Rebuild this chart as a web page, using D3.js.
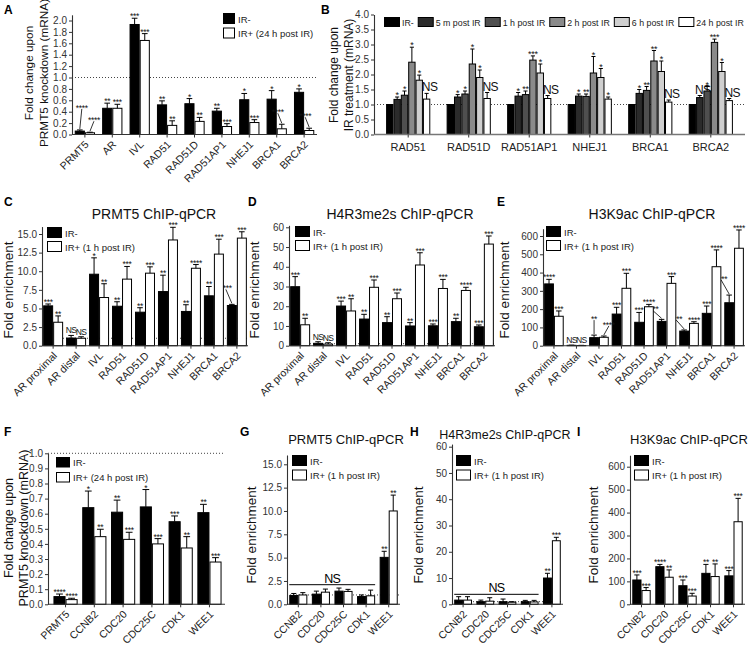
<!DOCTYPE html>
<html><head><meta charset="utf-8">
<script src="https://cdn.jsdelivr.net/npm/d3@7"></script>
<style>body{margin:0;background:#fff}svg text{font-family:"Liberation Sans",Arial,sans-serif}</style>
</head><body><svg id="c" width="749" height="646"></svg>
<script>
// ---------- DATA ----------
// Panel A
const catsA = ["PRMT5","AR","IVL","RAD51","RAD51D","RAD51AP1","NHEJ1","BRCA1","BRCA2"];
const A_neg = [0.06,0.46,1.93,0.52,0.54,0.41,0.61,0.62,0.74];
const A_negErr = [0.02,0.09,0.11,0.07,0.09,0.05,0.11,0.15,0.06];
const A_pos = [0.03,0.46,1.65,0.16,0.23,0.14,0.21,0.10,0.07];
const A_posErr = [0.01,0.07,0.12,0.08,0.07,0.05,0.05,0.08,0.04];
const A_negStars = ["****","**","***","**","*","**","*","*","*"];
const A_posStars = ["****","***","***","**","**","***","***","****","****"];
const ticksA = [0,0.2,0.4,0.6,0.8,1.0,1.2,1.4,1.6,1.8,2.0];
const legendA = ["IR-","IR+ (24 h post  IR)"];

// Panel B
const catsB = ["RAD51","RAD51D","RAD51AP1","NHEJ1","BRCA1","BRCA2"];
const seriesB = ["IR-","5 m post IR","1 h post IR","2 h post IR","6 h post IR","24 h post  IR"];
const B_ir = [1,1,1,1,1,1];
const B_5m = [1.17,1.25,1.28,1.28,1.37,1.23];
const B_5mErr = [0.08,0.08,0.12,0.07,0.13,0.07];
const B_1h = [1.31,1.35,1.33,1.27,1.47,1.45];
const B_1hErr = [0.14,0.10,0.12,0.08,0.13,0.15];
const B_2h = [2.41,2.35,2.48,2.05,2.45,3.07];
const B_2hErr = [0.50,0.50,0.14,0.55,0.35,0.11];
const B_6h = [1.81,1.90,2.05,1.90,2.10,2.10];
const B_6hErr = [0.17,0.25,0.30,0.30,0.35,0.30];
const B_24h = [1.18,1.20,1.20,1.18,1.08,1.13];
const B_24hErr = [0.19,0.20,0.10,0.07,0.07,0.07];
const B_5mStars = ["*","*","*","*","*","NS"];
const B_1hStars = ["*","*","**","**","**","*"];
const B_2hStars = ["*","*","***","*","**","***"];
const B_6hStars = ["*","*","*","*","*","*"];
const B_24hStars = ["NS","NS","NS","*","NS","NS"];
const ticksB = [0,0.5,1.0,1.5,2.0,2.5,3.0,3.5,4.0];

// Panels C, D, E (ChIP-qPCR, IR- vs IR+ 1 h)
const catsCDE = ["AR proximal","AR distal","IVL","RAD51","RAD51D","RAD51AP1","NHEJ1","BRCA1","BRCA2"];
const legendChIP = ["IR-","IR+ (1 h post IR)"];
const C_neg = [5.35,1.03,9.6,5.3,4.5,7.27,4.6,6.7,5.4];
const C_negErr = [0.25,0.35,2.2,0.6,0.6,2.2,0.9,1.25,0.15];
const C_pos = [3.15,1.0,6.47,8.94,9.74,14.2,10.4,12.3,14.45];
const C_posErr = [0.85,0.2,1.85,1.7,0.85,1.7,0.5,2.0,0.85];
const C_negStars = ["***","NS","*","**","**","**","**","**","****"];
const C_posStars = ["**","NS","**","***","***","***","****","***","***"];
const ticksC = [0,2.5,5.0,7.5,10.0,12.5,15.0];

const D_neg = [29.9,1.2,20.1,13.5,11.7,10.0,10.1,12.2,9.6];
const D_negErr = [5.1,0.8,2.5,2.4,3.0,1.7,0.9,1.7,0.9];
const D_pos = [10.6,0.8,17.6,29.6,23.8,40.9,29.0,28.0,51.5];
const D_posErr = [3.3,0.7,6.2,3.7,2.9,6.2,4.6,1.6,4.1];
const D_negStars = ["***","NS","***","**","**","**","***","**","***"];
const D_posStars = ["**","NS","**","***","***","***","***","****","***"];
const ticksD = [0,10,20,30,40,50,60];

const E_neg = [338,2,44,173,128,133,80,177,235];
const E_negErr = [25,1,14,37,54,11,6,40,42];
const E_pos = [161,1,46,314,213,341,122,432,533];
const E_posErr = [29,1,7,82,13,37,9,92,100];
const E_negStars = ["****","NS","**","***","***","****","****","***","****"];
const E_posStars = ["***","NS","****","***","****","***","****","****","****"];
const ticksE = [0,100,200,300,400,500,600];

// Panel F
const catsF = ["PRMT5","CCNB2","CDC20","CDC25C","CDK1","WEE1"];
const F_neg = [0.051,0.64,0.61,0.645,0.547,0.607];
const F_negErr = [0.017,0.11,0.08,0.115,0.038,0.055];
const F_pos = [0.031,0.448,0.43,0.40,0.373,0.28];
const F_posErr = [0.009,0.049,0.047,0.035,0.075,0.029];
const F_negStars = ["****","*","**","*","***","**"];
const F_posStars = ["****","**","***","***","**","***"];
const ticksF = [0,0.1,0.2,0.3,0.4,0.5,0.6,0.7,0.8,0.9,1.0];

// Panels G, H, I
const catsGHI = ["CCNB2","CDC20","CDC25C","CDK1","WEE1"];
const G_neg = [0.95,1.09,1.41,0.83,5.03];
const G_negErr = [0.21,0.32,0.33,0.17,0.65];
const G_pos = [1.0,1.3,1.38,0.91,10.0];
const G_posErr = [0.25,0.33,0.22,0.61,1.7];
const G_negStars = ["","","","","**"];
const G_posStars = ["","","","","**"];
const ticksG = [0,2.5,5.0,7.5,10.0,12.5,15.0];

const H_neg = [1.6,1.0,1.0,1.0,10.0];
const H_negErr = [1.3,0.6,1.0,0.5,1.8];
const H_pos = [1.6,1.2,0.8,0.9,24.2];
const H_posErr = [1.3,1.3,0.2,0.6,1.3];
const H_negStars = ["","","","","**"];
const H_posStars = ["","","","","***"];
const ticksH = [0,10,20,30,40,50,60];

const I_neg = [106,164,81,135,124];
const I_negErr = [22,10,25,39,23];
const I_pos = [60,118,36,121,360];
const I_posErr = [13,32,12,55,102];
const I_negStars = ["***","****","***","**","***"];
const I_posStars = ["***","**","***","**","***"];
const ticksI = [0,100,200,300,400,500,600];

// ---------- DRAWING ----------
const svg = d3.select("#c");
const AX = "#333";

function drawPanel(c) {
  const g = svg.append("g");
  const ppu = (c.y0 - c.yTickTop) / c.tickTop;
  const y = d3.scaleLinear().domain([0, c.axisTop]).range([c.y0, c.y0 - c.axisTop * ppu]);
  const x = d3.scaleBand().domain(c.cats).range([c.bx0, c.bx1]).paddingInner(c.padIn).paddingOuter(c.padOut);
  const xs = d3.scaleBand().domain(d3.range(c.series.length)).range([0, x.bandwidth()]);
  const bw = xs.bandwidth();

  if (c.ref != null) {
    g.append("line").attr("x1", c.ax0).attr("x2", c.ax1).attr("y1", y(c.ref)).attr("y2", y(c.ref))
      .attr("stroke", "#444").attr("stroke-width", 1).attr("stroke-dasharray", "1,2");
  }

  c.series.forEach((s, si) => {
    const rows = c.cats.map((cat, i) => ({cat, i, v: s.values[i], e: s.errs ? s.errs[i] : 0, star: s.stars ? s.stars[i] : ""}));
    const cx = d => x(d.cat) + xs(si) + bw / 2;
    g.selectAll(null).data(rows).join("rect")
      .attr("x", d => x(d.cat) + xs(si) + 0.5)
      .attr("y", d => y(d.v))
      .attr("width", bw - 1)
      .attr("height", d => Math.max(0, c.y0 - y(d.v)))
      .attr("fill", s.fill).attr("stroke", "#000").attr("stroke-width", 1);
    const er = rows.filter(d => d.e > 0);
    g.selectAll(null).data(er).join("line")
      .attr("x1", cx).attr("x2", cx).attr("y1", d => y(d.v)).attr("y2", d => y(d.v + d.e))
      .attr("stroke", "#000").attr("stroke-width", 1);
    g.selectAll(null).data(er).join("line")
      .attr("x1", d => cx(d) - bw * 0.28).attr("x2", d => cx(d) + bw * 0.28)
      .attr("y1", d => y(d.v + d.e)).attr("y2", d => y(d.v + d.e))
      .attr("stroke", "#000").attr("stroke-width", 1);
    rows.filter(d => d.star).forEach(d => {
      const key = si + "-" + d.i;
      const L = c.leaders && c.leaders[key];
      const top = y(d.v + d.e);
      const isNS = d.star === "NS";
      const fs = isNS ? (c.nsSize || 8.5) : (c.starSize || 8.5);
      let tx = cx(d), ty = top - 2;
      if (isNS && c.nsDx) tx += c.nsDx;
      if (L) {
        tx += L[0]; ty += L[1];
        g.append("line").attr("x1", tx).attr("y1", ty + 1).attr("x2", cx(d)).attr("y2", top - 1)
          .attr("stroke", "#000").attr("stroke-width", 0.8);
      }
      g.append("text").attr("x", tx).attr("y", isNS ? ty : ty + 3).attr("text-anchor", "middle")
        .attr("font-size", fs).attr("fill", "#111")
        .attr("letter-spacing", isNS ? -0.6 : -0.3)
        .text(d.star);
    });
  });

  // y axis
  const ya = g.append("g").attr("transform", `translate(${c.ax0},0)`)
    .call(d3.axisLeft(y).tickValues(c.ticks).tickFormat(c.fmt).tickSize(3).tickSizeOuter(0).tickPadding(2));
  ya.select(".domain").attr("stroke", AX).attr("stroke-width", 1.1);
  ya.selectAll(".tick line").attr("stroke", AX);
  ya.selectAll(".tick text").attr("font-size", 10).attr("fill", "#333").style("font-family", '"Liberation Sans",Arial,sans-serif');

  // x axis
  g.append("line").attr("x1", c.ax0).attr("x2", c.ax1).attr("y1", c.y0).attr("y2", c.y0)
    .attr("stroke", c.xAxisColor || AX).attr("stroke-width", c.xAxisWidth || 1.1);
  g.selectAll(null).data(c.cats).join("line")
    .attr("x1", d => x(d) + x.bandwidth() / 2).attr("x2", d => x(d) + x.bandwidth() / 2)
    .attr("y1", c.y0).attr("y2", c.y0 + 3).attr("stroke", AX);
  if (c.rotate) {
    g.selectAll(null).data(c.cats).join("text")
      .attr("transform", d => `translate(${x(d) + x.bandwidth() / 2 + 2},${c.y0 + 8}) rotate(-45)`)
      .attr("text-anchor", "end").attr("dy", "0.35em").attr("font-size", c.xFont || 10.5).attr("fill", "#222")
      .text(d => d);
  } else {
    g.selectAll(null).data(c.cats).join("text")
      .attr("x", d => x(d) + x.bandwidth() / 2).attr("y", c.y0 + 16)
      .attr("text-anchor", "middle").attr("font-size", c.xFont || 11).attr("fill", "#222")
      .text(d => d);
  }

  // NS bracket
  if (c.nsBracket) {
    const b = c.nsBracket;
    const xa = x(c.cats[b.from]), xb = x(c.cats[b.to]) + x.bandwidth();
    g.append("line").attr("x1", xa).attr("x2", xb).attr("y1", y(b.value)).attr("y2", y(b.value))
      .attr("stroke", "#000").attr("stroke-width", 1);
    g.append("text").attr("x", (xa + xb) / 2).attr("y", y(b.value) - 2).attr("text-anchor", "middle")
      .attr("font-size", 12.5).attr("letter-spacing", -0.8).text("NS");
  }

  // legend
  const lg = c.legend;
  if (lg.dir === "h") {
    let cur = lg.x;
    c.series.forEach((s, si) => {
      g.append("rect").attr("x", cur + 0.5).attr("y", lg.y + 0.5).attr("width", lg.w - 1).attr("height", lg.h - 1)
        .attr("fill", s.fill).attr("stroke", "#000");
      const t = g.append("text").attr("x", cur + lg.w + 2).attr("y", lg.y + lg.h - 1).attr("font-size", lg.fs)
        .attr("fill", "#222").text(lg.labels[si]);
      cur = cur + lg.w + 2 + t.node().getComputedTextLength() + lg.gap;
    });
  } else {
    c.series.forEach((s, si) => {
      const yy = lg.y + si * lg.step;
      g.append("rect").attr("x", lg.x + 0.5).attr("y", yy + 0.5).attr("width", lg.w - 1).attr("height", lg.h - 1)
        .attr("fill", s.fill).attr("stroke", "#000");
      g.append("text").attr("x", lg.x + lg.w + 3).attr("y", yy + lg.h - 1.5).attr("font-size", lg.fs)
        .attr("fill", "#222").text(lg.labels[si]);
    });
  }

  // y title
  c.ytitle.lines.forEach((t, i) => {
    g.append("text").attr("transform", `translate(${c.ytitle.x[i]},${c.ytitle.cy}) rotate(-90)`)
      .attr("text-anchor", "middle").attr("font-size", c.ytitle.fs || 13.5).attr("fill", "#111").text(t);
  });
  if (c.title) {
    g.append("text").attr("x", c.title.x).attr("y", c.title.y).attr("text-anchor", "middle")
      .attr("font-size", c.title.fs || 13.5).attr("fill", "#111").text(c.title.text);
  }
  g.append("text").attr("x", c.letter.x).attr("y", c.letter.y).attr("font-size", 12).attr("font-weight", "bold")
    .text(c.letter.t);
}

const f1 = d3.format(".1f"), f0 = d3.format("d");
const pair = (neg, negE, negS, pos, posE, posS) => [
  {values: neg, errs: negE, stars: negS, fill: "#000"},
  {values: pos, errs: posE, stars: posS, fill: "#fff"}
];
const vLeg = (x, y, labels, w = 15, h = 11, step = 14) => ({dir: "v", x, y, labels, w, h, step, fs: 9.5});

// A
drawPanel({
  cats: catsA, series: pair(A_neg, A_negErr, A_negStars, A_pos, A_posErr, A_posStars),
  ax0: 72, ax1: 317, bx0: 72, bx1: 317, padIn: 0.26, padOut: 0.1,
  y0: 134.5, yTickTop: 20.5, tickTop: 2.0, axisTop: 2.1, ticks: ticksA, fmt: f1, ref: 1.0, rotate: true,
  leaders: {"0-0": [2, -20], "1-0": [4, -10], "1-7": [-4, -10], "1-8": [-4, -10]},
  legend: vLeg(223, 13, legendA, 12, 11, 14.5),
  ytitle: {lines: ["Fold change upon", "PRMT5 knockdown (mRNA)"], x: [33, 48], cy: 73, fs: 11.8},
  letter: {t: "A", x: 4, y: 14}
});

// B
const fillsB = ["#000", "#2b2b2b", "#4f4f4f", "#8a8a8a", "#cfcfcf", "#fff"];
drawPanel({
  cats: catsB,
  series: [
    {values: B_ir, fill: fillsB[0]},
    {values: B_5m, errs: B_5mErr, stars: B_5mStars, fill: fillsB[1]},
    {values: B_1h, errs: B_1hErr, stars: B_1hStars, fill: fillsB[2]},
    {values: B_2h, errs: B_2hErr, stars: B_2hStars, fill: fillsB[3]},
    {values: B_6h, errs: B_6hErr, stars: B_6hStars, fill: fillsB[4]},
    {values: B_24h, errs: B_24hErr, stars: B_24hStars, fill: fillsB[5]}
  ],
  ax0: 374, ax1: 745, bx0: 374, bx1: 745, padIn: 0.27, padOut: 0.2,
  y0: 134.5, yTickTop: 14.5, tickTop: 4.0, axisTop: 4.0, ticks: ticksB, fmt: f1, ref: 1.0, rotate: false,
  nsSize: 12, starSize: 9, nsDx: 3, xAxisColor: "#777", xAxisWidth: 1.6,
  legend: {dir: "h", x: 384, y: 17, w: 16, h: 10, gap: 4, fs: 8.8, labels: seriesB},
  ytitle: {lines: ["Fold change upon", "IR treatment (mRNA)"], x: [338, 353], cy: 75, fs: 12},
  letter: {t: "B", x: 321, y: 14}
});

// C
drawPanel({
  cats: catsCDE, series: pair(C_neg, C_negErr, C_negStars, C_pos, C_posErr, C_posStars),
  ax0: 42, ax1: 248, bx0: 42, bx1: 248, padIn: 0.13, padOut: 0.05,
  y0: 345.7, yTickTop: 234, tickTop: 15, axisTop: 16, ticks: ticksC, fmt: f1, ref: 1.0, rotate: true,
  leaders: {"0-8": [-6, -14]},
  legend: vLeg(47, 227, legendChIP),
  ytitle: {lines: ["Fold enrichment"], x: [13], cy: 290},
  title: {text: "PRMT5 ChIP-qPCR", x: 154, y: 219, fs: 14},
  letter: {t: "C", x: 4, y: 206}
});

// D
drawPanel({
  cats: catsCDE, series: pair(D_neg, D_negErr, D_negStars, D_pos, D_posErr, D_posStars),
  ax0: 289, ax1: 495, bx0: 289, bx1: 495, padIn: 0.13, padOut: 0.05,
  y0: 345.7, yTickTop: 227.3, tickTop: 60, axisTop: 61, ticks: ticksD, fmt: f0, ref: 1.0, rotate: true,
  legend: vLeg(295, 226, legendChIP),
  ytitle: {lines: ["Fold enrichment"], x: [259], cy: 290},
  title: {text: "H4R3me2s ChIP-qPCR", x: 400, y: 219, fs: 14},
  letter: {t: "D", x: 248, y: 206}
});

// E
drawPanel({
  cats: catsCDE, series: pair(E_neg, E_negErr, E_negStars, E_pos, E_posErr, E_posStars),
  ax0: 543, ax1: 745, bx0: 543, bx1: 745, padIn: 0.13, padOut: 0.05,
  y0: 345.7, yTickTop: 236, tickTop: 600, axisTop: 640, ticks: ticksE, fmt: f0, ref: null, rotate: true,
  leaders: {"0-2": [0, -14], "1-2": [5, -9], "0-5": [-9, -8], "0-6": [-8, -9], "0-8": [-8, -14]},
  legend: vLeg(546, 226, legendChIP),
  ytitle: {lines: ["Fold enrichment"], x: [509], cy: 290},
  title: {text: "H3K9ac ChIP-qPCR", x: 652, y: 219, fs: 14},
  letter: {t: "E", x: 497, y: 206}
});

// F
drawPanel({
  cats: catsF, series: pair(F_neg, F_negErr, F_negStars, F_pos, F_posErr, F_posStars),
  ax0: 48, ax1: 225, bx0: 50, bx1: 225, padIn: 0.16, padOut: 0.12,
  y0: 604.3, yTickTop: 453.3, tickTop: 1.0, axisTop: 1.0, ticks: ticksF, fmt: f1, ref: 1.0, rotate: true,
  legend: vLeg(56, 457, legendA, 14, 10.5, 15),
  ytitle: {lines: ["Fold change upon", "PRMT5 knockdown (mRNA)"], x: [13, 28], cy: 528, fs: 12.5},
  letter: {t: "F", x: 4, y: 436}
});

// G
drawPanel({
  cats: catsGHI, series: pair(G_neg, G_negErr, G_negStars, G_pos, G_posErr, G_posStars),
  ax0: 287, ax1: 400, bx0: 287, bx1: 400, padIn: 0.2, padOut: 0.1,
  y0: 604.3, yTickTop: 464.3, tickTop: 15, axisTop: 16, ticks: ticksG, fmt: f1, ref: 1.0, rotate: true,
  nsBracket: {from: 0, to: 3, value: 2.1},
  legend: vLeg(292, 455, legendChIP, 15, 11, 14.5),
  ytitle: {lines: ["Fold enrichment"], x: [256], cy: 535},
  title: {text: "PRMT5 ChIP-qPCR", x: 346, y: 444, fs: 13},
  letter: {t: "G", x: 240, y: 436}
});

// H
drawPanel({
  cats: catsGHI, series: pair(H_neg, H_negErr, H_negStars, H_pos, H_posErr, H_posStars),
  ax0: 452, ax1: 563, bx0: 452, bx1: 563, padIn: 0.2, padOut: 0.1,
  y0: 604.3, yTickTop: 446.7, tickTop: 60, axisTop: 61, ticks: ticksH, fmt: f0, ref: 1.0, rotate: true,
  nsBracket: {from: 0, to: 3, value: 3.8},
  legend: vLeg(456, 455, legendChIP, 15, 11, 14.5),
  ytitle: {lines: ["Fold enrichment"], x: [423], cy: 535},
  title: {text: "H4R3me2s ChIP-qPCR", x: 505, y: 439, fs: 12.5},
  letter: {t: "H", x: 410, y: 436}
});

// I
drawPanel({
  cats: catsGHI, series: pair(I_neg, I_negErr, I_negStars, I_pos, I_posErr, I_posStars),
  ax0: 630, ax1: 745, bx0: 630, bx1: 745, padIn: 0.2, padOut: 0.1,
  y0: 604.3, yTickTop: 466.7, tickTop: 600, axisTop: 650, ticks: ticksI, fmt: f0, ref: null, rotate: true,
  legend: vLeg(634, 455, legendChIP, 15, 11, 14.5),
  ytitle: {lines: ["Fold enrichment"], x: [598], cy: 535},
  title: {text: "H3K9ac ChIP-qPCR", x: 689, y: 444, fs: 13},
  letter: {t: "I", x: 577, y: 436}
});
</script></body></html>
